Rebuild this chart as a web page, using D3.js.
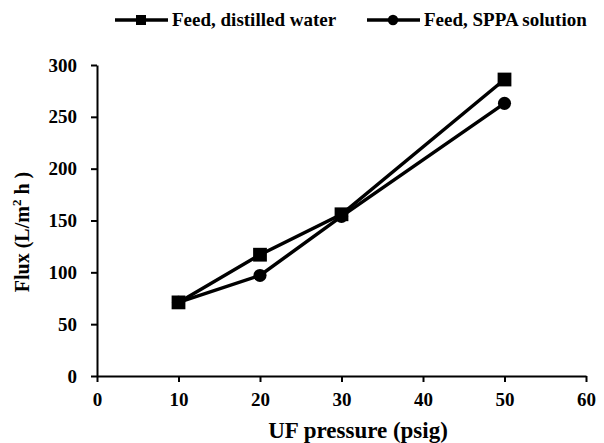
<!DOCTYPE html>
<html><head><meta charset="utf-8">
<script src="https://cdn.jsdelivr.net/npm/d3@7"></script>
<style>body{margin:0;background:#fff}svg{display:block}text{font-family:"Liberation Serif","Times New Roman",serif;font-weight:bold;fill:#000}</style>
</head><body><svg id="c" width="604" height="443"></svg>
<script>
const pressure = [10, 20, 30, 50];
const fluxWater = [71, 117, 156, 286];
const fluxSPPA = [71, 97, 154, 263];
const seriesNames = ["Feed, distilled water", "Feed, SPPA solution"];
const xTicks = [0, 10, 20, 30, 40, 50, 60];
const yTicks = [0, 50, 100, 150, 200, 250, 300];

const svg = d3.select("#c");
const x = d3.scaleLinear().domain([0, 60]).range([97, 586]);
const y = d3.scaleLinear().domain([0, 300]).range([376, 65]);

const xAxis = svg.append("g").attr("transform", "translate(0,376)")
  .call(d3.axisBottom(x).tickValues(xTicks).tickSize(6).tickSizeOuter(0).tickPadding(11));
const yAxis = svg.append("g").attr("transform", "translate(97,0)")
  .call(d3.axisLeft(y).tickValues(yTicks).tickSize(6).tickSizeOuter(0).tickPadding(14));
[xAxis, yAxis].forEach(g => {
  g.select(".domain").attr("stroke", "#000").attr("stroke-width", 2);
  g.selectAll(".tick line").attr("stroke", "#000").attr("stroke-width", 2);
  g.selectAll(".tick text").attr("font-size", 19).attr("font-family", "Liberation Serif").attr("font-weight", "bold").attr("fill", "#000");
});

svg.append("text").attr("x", 358).attr("y", 438).attr("text-anchor", "middle").attr("font-size", 23).text("UF pressure (psig)");
const yt = svg.append("text").attr("transform", "translate(29,232) rotate(-90)").attr("text-anchor", "middle").attr("font-size", 20);
yt.append("tspan").text("Flux (L/m");
yt.append("tspan").attr("font-size", 13).attr("dy", -8).text("2");
yt.append("tspan").attr("dy", 8).text(" h )");

const line = d3.line().x(d => x(d[0])).y(d => y(d[1]));
const sets = [fluxWater, fluxSPPA];
sets.forEach((vals, i) => {
  const pts = pressure.map((p, j) => [p, vals[j]]);
  svg.append("path").datum(pts).attr("d", line).attr("fill", "none").attr("stroke", "#000").attr("stroke-width", 3.5);
  const sym = d3.symbol().type(i === 0 ? d3.symbolSquare : d3.symbolCircle).size(i === 0 ? 190 : 135);
  svg.selectAll(null).data(pts).enter().append("path")
    .attr("transform", d => `translate(${x(d[0])},${y(d[1])})`).attr("d", sym).attr("fill", "#000");
});

// legend
const legX = [115, 367];
seriesNames.forEach((name, i) => {
  const g = svg.append("g").attr("transform", `translate(${legX[i]},20)`);
  g.append("line").attr("x1", 0).attr("x2", 53).attr("y1", 0).attr("y2", 0).attr("stroke", "#000").attr("stroke-width", 3.5);
  g.append("path").attr("transform", "translate(26,0)").attr("d", d3.symbol().type(i === 0 ? d3.symbolSquare : d3.symbolCircle).size(i === 0 ? 100 : 85)).attr("fill", "#000");
  g.append("text").attr("x", 57).attr("y", 6).attr("font-size", 19).text(name);
});
</script></body></html>
